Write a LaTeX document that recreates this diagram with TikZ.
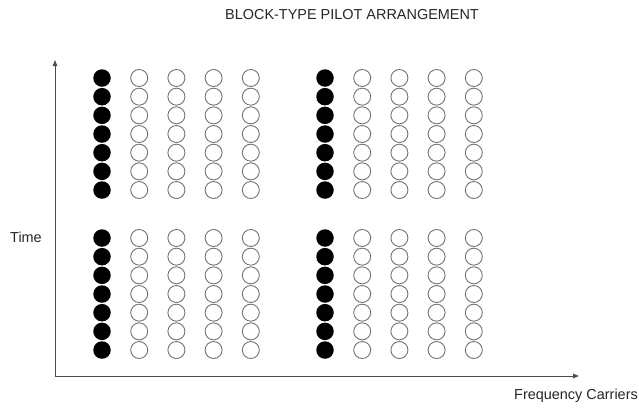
\documentclass[tikz,border=0pt]{standalone}
\usepackage{fontspec}
\setmainfont{Liberation Sans}
\usetikzlibrary{arrows.meta}
\begin{document}
\begin{tikzpicture}[x=1bp, y=-1bp,
    pilot/.style={circle, fill=black, minimum size=17.5bp, inner sep=0pt},
    data/.style={circle, draw=black!55, line width=0.9bp, fill=white,
                 minimum size=17bp, inner sep=0pt},
    axis/.style={-{Triangle[length=6bp, width=4.5bp]}, draw=black!70, line width=1bp},
    lbl/.style={font=\fontsize{14.5}{17}\selectfont, text=black!85},
  ]
  \useasboundingbox (0,0) rectangle (639,416);
  \node[lbl] (title) at (352,15) {BLOCK-TYPE PILOT ARRANGEMENT};
  % blocks: pilot column + four data columns
  \foreach \bx/\bn in {102/a, 325/b}
    \foreach \by/\bm in {78/1, 238/2} {
      \foreach \r in {0,...,6} {
        \node[pilot] (p-\bn\bm-\r) at (\bx, \by+\r*18.67) {};
        \foreach \c in {1,...,4}
          \node[data] (d-\bn\bm-\c-\r) at (\bx+\c*37.2, \by+\r*18.67) {};
      }
    }
  % axes
  \coordinate (origin) at (55,376);
  \coordinate (ttop)   at (55,60);
  \coordinate (fend)   at (579,376);
  \draw[axis] (origin) -- (ttop);
  \draw[axis] (origin) -- (fend);
  \node[lbl] (time) at (26,237) {Time};
  \node[lbl] (freq) at (576,396) {Frequency Carriers};
\end{tikzpicture}
\end{document}
